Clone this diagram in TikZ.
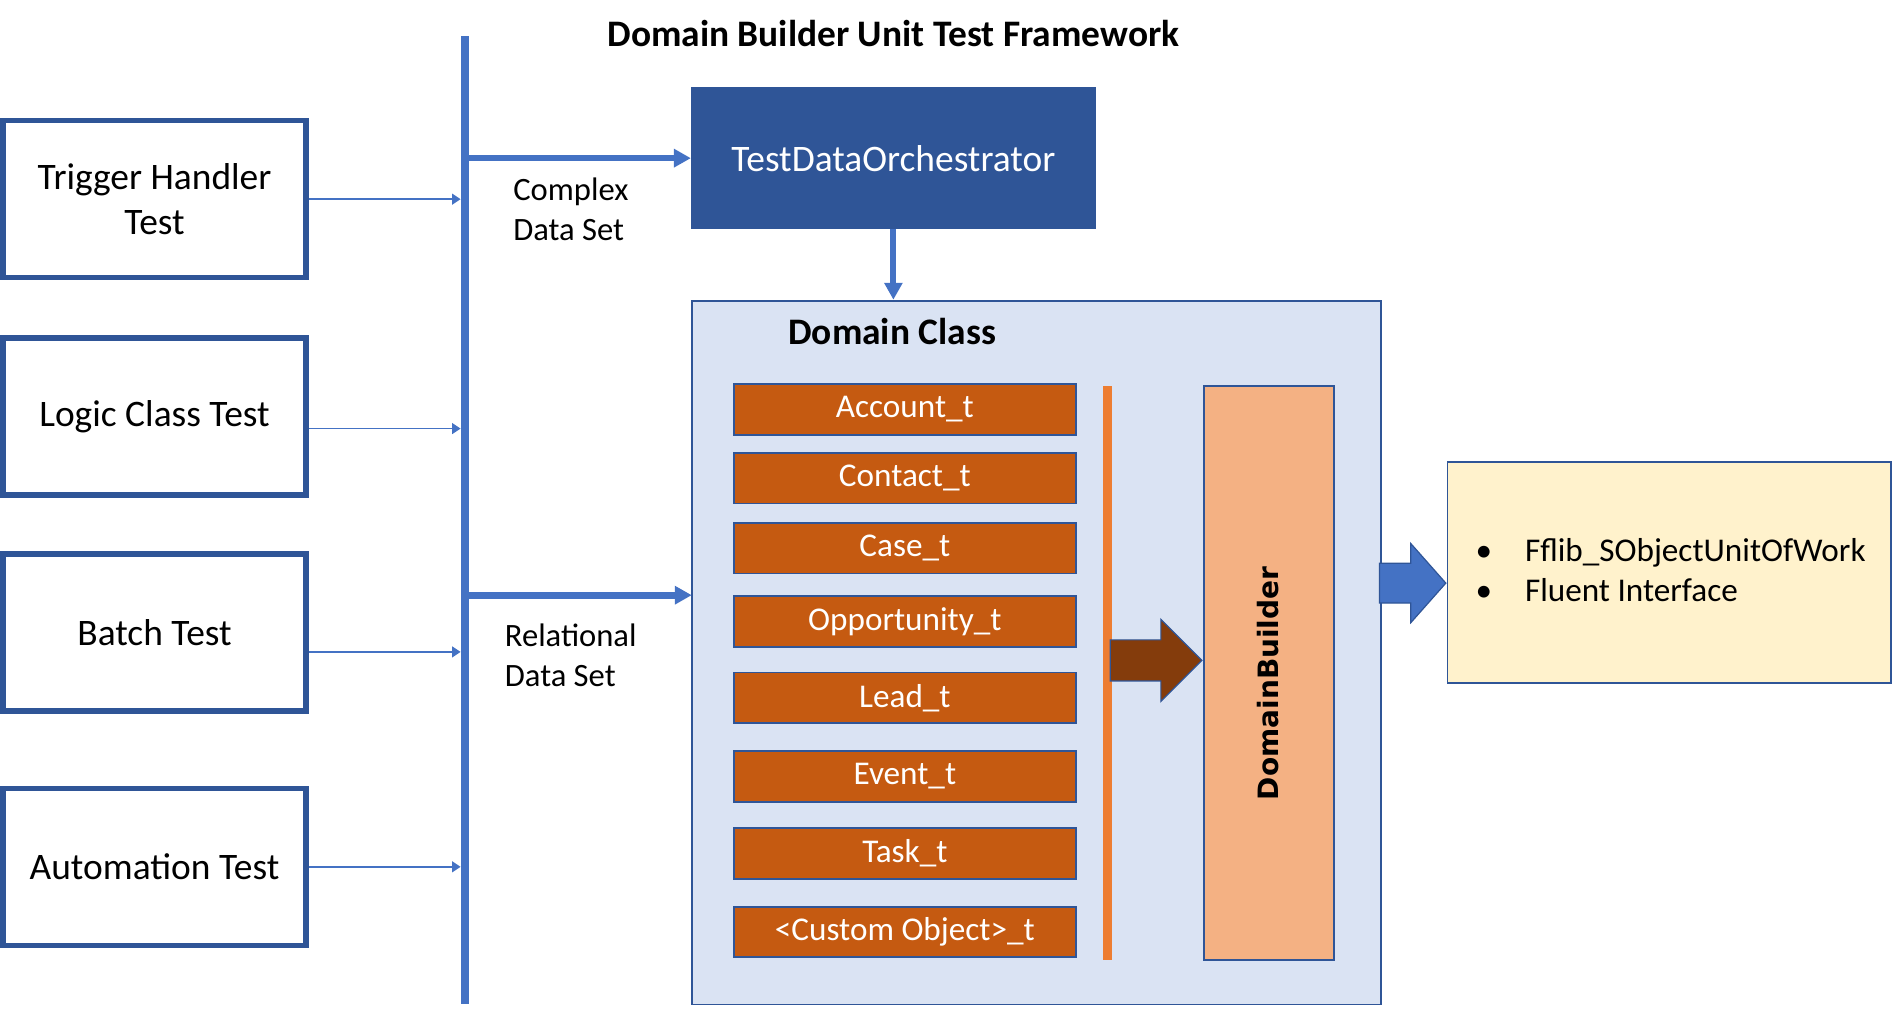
\documentclass[tikz,border=0pt]{standalone}
\usepackage{fontspec}
\setmainfont{Carlito}
\newfontfamily\dbfont{DejaVu Sans}
\usetikzlibrary{arrows.meta,shapes.arrows,calc}
\definecolor{dbblue}{HTML}{2F5597}
\definecolor{busblue}{HTML}{4472C4}
\definecolor{dclight}{HTML}{DAE3F3}
\definecolor{itemorange}{HTML}{C55A11}
\definecolor{accent}{HTML}{ED7D31}
\definecolor{brownarrow}{HTML}{843C0C}
\definecolor{peach}{HTML}{F4B183}
\definecolor{cream}{HTML}{FFF2CC}
\def\boxfont{\fontsize{31}{37}\selectfont}
\def\itemfont{\fontsize{27.5}{32}\selectfont}
\def\notefont{\fontsize{27}{33}\selectfont}
\tikzset{
	testbox/.style={draw=dbblue, line width=4.5pt, fill=white, minimum width=251pt, minimum height=130pt, align=center, font=\boxfont},
	itembox/.style={draw=dbblue, line width=1.5pt, fill=itemorange, minimum width=283pt, minimum height=42pt, inner sep=0pt, text=white, font=\itemfont},
	feed/.style={draw=busblue, line width=1.2pt, -{Triangle[length=7pt,width=9pt]}, shorten >=3.5pt},
	datafeed/.style={draw=busblue, line width=5.5pt, -{Triangle[length=14pt,width=14.6pt]}},
	blockarrow/.style={single arrow, draw=dbblue, line width=1pt, inner xsep=0pt, single arrow head indent=0pt, anchor=tip}
}

\begin{document}
\begin{tikzpicture}[x=1pt,y=-1pt]
		%%%%% START %%%%%
		\useasboundingbox (0,0) rectangle (1568,836.6);
		
		\node[font=\boxfont\bfseries] (title) at (740,28) {Domain Builder Unit Test Framework};
		
		% bus
		\coordinate (bustop) at (385,30);
		\coordinate (busbot) at (385,832);
		\draw[line width=7pt, color=busblue] (bustop) -- (busbot);
		
		% tests on the left
		\node[testbox] (trig) at (128,165) {Trigger Handler\\Test};
		\node[testbox] (logic) at (128,345) {Logic Class Test};
		\node[testbox] (batch) at (128,524) {Batch Test};
		\node[testbox] (auto) at (128,718) {Automation Test};
		
		\draw[feed] (trig.east) -- (trig.east -| bustop);
		\draw[feed] ([yshift=-10pt]logic.east) -- ([yshift=-10pt]logic.east -| bustop);
		\draw[feed] ([yshift=-16pt]batch.east) -- ([yshift=-16pt]batch.east -| bustop);
		\draw[feed] (auto.east) -- (auto.east -| bustop);
		
		% orchestrator
		\node[draw=dbblue, line width=1.5pt, fill=dbblue, text=white, font=\boxfont, minimum width=334pt, minimum height=116pt] (tdo) at (740,131) {TestDataOrchestrator};
		\draw[datafeed] (bustop |- tdo.west) -- (tdo.west);
		\node[anchor=west, align=left, inner sep=0pt, font=\notefont] (complex) at (425,173.5) {Complex\\Data Set};
		
		% domain class
		\node[draw=dbblue, line width=1.5pt, fill=dclight, minimum width=571pt, minimum height=583pt] (domcls) at (858.5,540.5) {};
		\node[font=\boxfont\bfseries] (domtitle) at (739,275) {Domain Class};
		\draw[busblue, line width=5pt, -{Triangle[length=14pt,width=14.5pt]}] (tdo.south) -- (tdo.south |- domcls.north);
		
		\coordinate (relin) at (573,493);
		\draw[datafeed] (bustop |- relin) -- (relin);
		\node[anchor=west, align=left, inner sep=0pt, font=\notefont] (relational) at (418,542.5) {Relational\\Data Set};
		
		\foreach \lab/\y [count=\i] in {Account\_t/339, Contact\_t/396, Case\_t/454, Opportunity\_t/515, Lead\_t/578, Event\_t/643, Task\_t/707, <Custom Object>\_t/772}
			\node[itembox] (item\i) at (749.5,\y) {\lab};
		
		\draw[line width=7pt, color=accent] (917.5,320) -- (917.5,795);
		
		\node[draw=dbblue, line width=1.5pt, fill=peach, minimum width=108pt, minimum height=475pt] (dbuilder) at (1051,557.5) {};
		\node[rotate=90, font=\dbfont\bfseries\fontsize{23.2}{27}\selectfont] (dbtext) at (1050,566) {DomainBuilder};
		\node[blockarrow, fill=brownarrow, minimum height=76pt, minimum width=67pt, inner ysep=16.5pt, single arrow head extend=17pt, single arrow tip angle=90] (tobuilder) at ([yshift=10.5pt]dbuilder.west) {};
		
		% output
		\node[draw=dbblue, line width=1.5pt, fill=cream, minimum width=367pt, minimum height=183pt] (uow) at (1382.5,474.5) {};
		\node[blockarrow, fill=busblue, minimum height=55pt, minimum width=64.5pt, inner ysep=16pt, single arrow head extend=16.25pt, single arrow tip angle=97] (touow) at ([yshift=-8.5pt]uow.west) {};
		\node[anchor=west, align=left, inner sep=0pt, font=\itemfont] (uowlist) at (1222,472.5) {\makebox[41pt][l]{\textbullet}Fflib\_SObjectUnitOfWork\\[1pt]\makebox[41pt][l]{\textbullet}Fluent Interface};
		
		%%%%% END %%%%%
	\end{tikzpicture}
\end{document}
